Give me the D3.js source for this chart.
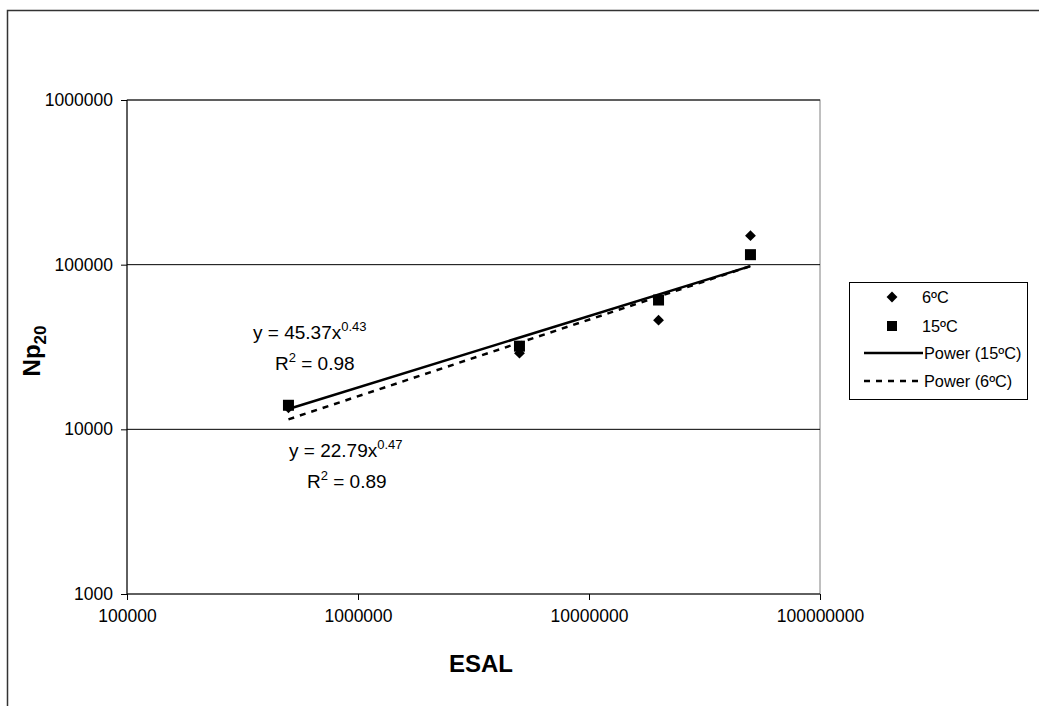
<!DOCTYPE html>
<html><head><meta charset="utf-8">
<script src="https://cdn.jsdelivr.net/npm/d3@7"></script>
<style>body{margin:0;background:#fff}svg{display:block}text{font-family:"Liberation Sans",Arial,sans-serif;fill:#000}</style>
</head><body><svg id="c" width="1039" height="706"></svg>
<script>
// Data
const esal = [500000, 5000000, 20000000, 50000000];
const np6 = [13500, 29000, 46000, 150000];
const np15 = [14000, 32000, 61000, 115000];
const trendX = [500000, 50000000];
const trend15 = [13300, 98000];
const trend6 = [11500, 98000];
const xTicks = [100000, 1000000, 10000000, 100000000];
const yTicks = [1000, 10000, 100000, 1000000];
const legendLabels = ["6ºC", "15ºC", "Power (15ºC)", "Power (6ºC)"];

const svg = d3.select("#c");
const L = 127, R = 820, T = 100, B = 594;
const x = d3.scaleLog().domain([1e5, 1e8]).range([L, R]);
const y = d3.scaleLog().domain([1e3, 1e6]).range([B, T]);

// outer chart border
svg.append("path").attr("d", `M7.5,706 V10.5 H1039`).attr("fill", "none").attr("stroke", "#333").attr("stroke-width", 1.5);

// plot area border
svg.append("rect").attr("x", L).attr("y", T).attr("width", R - L).attr("height", B - T)
  .attr("fill", "none").attr("stroke", "#808080").attr("stroke-width", 1);

// gridlines
svg.append("g").selectAll("line").data(yTicks.slice(1)).join("line")
  .attr("x1", L).attr("x2", R).attr("y1", d => y(d)).attr("y2", d => y(d))
  .attr("stroke", "#000").attr("stroke-width", 1);

// axes
const xAxis = d3.axisBottom(x).tickValues(xTicks).tickFormat(d3.format("d")).tickSize(6).tickPadding(10);
const gx = svg.append("g").attr("transform", `translate(0,${B})`).call(xAxis);
gx.selectAll("text").style("font-size", "17.5px").attr("font-family", "Liberation Sans, Arial, sans-serif");
gx.selectAll("line,path").attr("stroke", "#000");
gx.select(".domain").attr("d", `M${L},0H${R}`);

const yAxis = d3.axisLeft(y).tickValues(yTicks).tickFormat(d3.format("d")).tickSize(6).tickPadding(8);
const gy = svg.append("g").attr("transform", `translate(${L},0)`).call(yAxis);
gy.selectAll("text").style("font-size", "17.5px").attr("font-family", "Liberation Sans, Arial, sans-serif");
gy.selectAll("line,path").attr("stroke", "#000");
gy.select(".domain").attr("d", `M0,${B}V${T}`);

// axis titles
svg.append("text").attr("x", 481).attr("y", 672).attr("text-anchor", "middle")
  .style("font-size", "24px").style("font-weight", "bold").text("ESAL");
const yt = svg.append("text").attr("transform", `translate(40,${(T + B) / 2 + 4}) rotate(-90)`).attr("text-anchor", "middle")
  .style("font-size", "24px").style("font-weight", "bold");
yt.append("tspan").text("Np");
yt.append("tspan").attr("dy", 6).style("font-size", "17px").text("20");

// trend lines
const line = d3.line().x(d => x(d[0])).y(d => y(d[1]));
svg.append("path").datum(trendX.map((d, i) => [d, trend6[i]])).attr("d", line)
  .attr("fill", "none").attr("stroke", "#000").attr("stroke-width", 2.5).attr("stroke-dasharray", "6,6");
svg.append("path").datum(trendX.map((d, i) => [d, trend15[i]])).attr("d", line)
  .attr("fill", "none").attr("stroke", "#000").attr("stroke-width", 2.5);

// markers
const diamond = d3.symbol().type(d3.symbolDiamond2).size(75);
svg.append("g").selectAll("path").data(esal.map((d, i) => [d, np6[i]])).join("path")
  .attr("d", diamond).attr("transform", d => `translate(${x(d[0])},${y(d[1])})`).attr("fill", "#000");
svg.append("g").selectAll("rect").data(esal.map((d, i) => [d, np15[i]])).join("rect")
  .attr("x", d => x(d[0]) - 5.5).attr("y", d => y(d[1]) - 5.5).attr("width", 11).attr("height", 11).attr("fill", "#000");

// equation labels
function eq(xp, yp, a, b) {
  const t = svg.append("text").attr("x", xp).attr("y", yp).style("font-size", "19px");
  t.append("tspan").text(a);
  t.append("tspan").attr("dy", -8).style("font-size", "13px").text(b);
}
function r2(xp, yp, v) {
  const t = svg.append("text").attr("x", xp).attr("y", yp).style("font-size", "19px");
  t.append("tspan").text("R");
  t.append("tspan").attr("dy", -8).style("font-size", "13px").text("2");
  t.append("tspan").attr("dy", 8).text(" = " + v);
}
eq(253, 339, "y = 45.37x", "0.43");
r2(275, 370, "0.98");
eq(289, 457, "y = 22.79x", "0.47");
r2(307, 488, "0.89");

// legend
const lg = svg.append("g");
lg.append("rect").attr("x", 849.5).attr("y", 282.5).attr("width", 178).attr("height", 117)
  .attr("fill", "#fff").attr("stroke", "#000").attr("stroke-width", 1);
const ly = [297, 326, 353, 381];
lg.append("path").attr("d", diamond).attr("transform", `translate(892,${ly[0]})`).attr("fill", "#000");
lg.append("rect").attr("x", 887).attr("y", ly[1] - 5).attr("width", 10).attr("height", 10).attr("fill", "#000");
lg.append("line").attr("x1", 864).attr("x2", 923).attr("y1", ly[2]).attr("y2", ly[2]).attr("stroke", "#000").attr("stroke-width", 2.5);
lg.append("line").attr("x1", 864).attr("x2", 923).attr("y1", ly[3]).attr("y2", ly[3]).attr("stroke", "#000").attr("stroke-width", 2.5).attr("stroke-dasharray", "6,6");
lg.selectAll("text.l").data(legendLabels).join("text").attr("class", "l")
  .attr("x", (d, i) => i < 2 ? 922 : 924).attr("y", (d, i) => ly[i] + 6).style("font-size", "16.3px").text(d => d);
</script></body></html>
